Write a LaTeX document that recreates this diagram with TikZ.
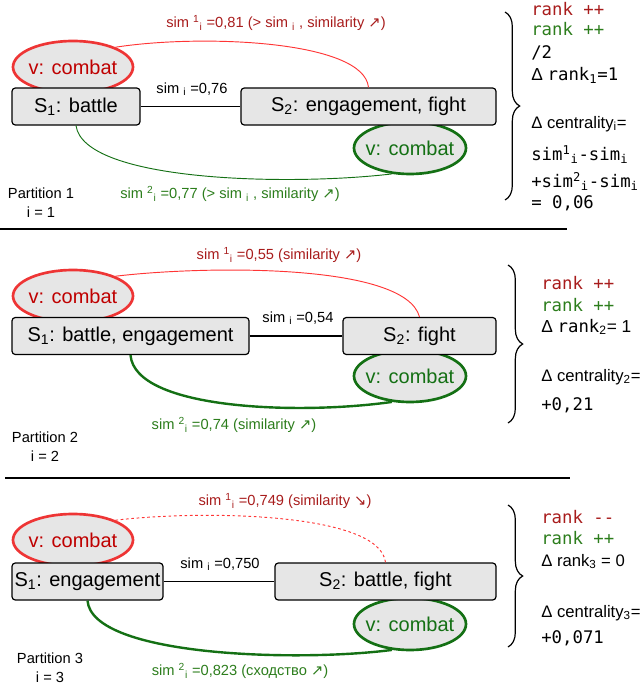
\documentclass[tikz,border=0pt]{standalone}
\usepackage{fontspec}
\setmainfont{Liberation Sans}
\setmonofont{DejaVu Sans Mono}
\newfontfamily\arrfont{DejaVu Sans}
\usetikzlibrary{shapes.geometric,decorations.pathreplacing}
\definecolor{simred}{HTML}{A81C1C}
\definecolor{ellred}{HTML}{EE3535}
\definecolor{linered}{HTML}{FF3535}
\definecolor{simgreen}{HTML}{2C7D1C}
\definecolor{ellgreen}{HTML}{147014}
\definecolor{boxgray}{HTML}{E6E6E6}
\newcommand{\arrup}{{\arrfont ↗}}
\newcommand{\arrdn}{{\arrfont ↘}}
\newcommand{\supsub}[2]{\textsuperscript{#1}\textsubscript{#2}}
\begin{document}
\begin{tikzpicture}[x=0.75pt, y=-0.75pt]
        % Define block styles
        \tikzstyle{sense} = [rectangle, draw, rounded corners=2.5pt, fill=boxgray, line width=0.9pt, minimum height=27.75pt, inner sep=0pt, font=\fontsize{15}{18}\selectfont]
        \tikzstyle{redsense} = [ellipse, draw=ellred, fill=boxgray, line width=2pt, minimum width=90pt, minimum height=39pt, inner xsep=-4pt, inner ysep=0pt, text=red!75!black, font=\fontsize{15}{18}\selectfont]
        \tikzstyle{greensense} = [ellipse, draw=ellgreen, fill=boxgray, line width=2pt, minimum width=84pt, minimum height=39pt, inner xsep=-4pt, inner ysep=0pt, text=ellgreen, font=\fontsize{15}{18}\selectfont]
        \tikzstyle{simline} = [line width=0.9pt]
        \tikzstyle{redlink} = [linered, line width=0.7pt]
        \tikzstyle{greenlink} = [ellgreen, line width=0.7pt]
        \tikzstyle{greenthick} = [ellgreen, line width=1.8pt]
        \tikzstyle{simlabel} = [inner sep=0pt, font=\fontsize{11}{13}\selectfont]
        \tikzstyle{partlabel} = [align=center, inner sep=0pt, font=\fontsize{11}{14.5}\selectfont]
        \tikzstyle{note} = [anchor=base west, inner sep=0pt, font=\fontsize{13}{15}\selectfont]
        \tikzstyle{sansnote} = [anchor=base west, inner sep=0pt, font=\fontsize{12.5}{15}\selectfont]
        \tikzstyle{bracket} = [decorate, decoration={brace, amplitude=11pt}, line width=0.9pt]
        \tikzstyle{sepline} = [line width=0.9pt]

        \useasboundingbox (0,0) rectangle (640,686);

        % Partition 1
        \node[redsense] (vred1) at (73,67) {v: combat};
        \node[greensense] (vgreen1) at (410,148) {v: combat};
        \node[sense, minimum width=96pt] (sa1) at (76,106.5) {S\textsubscript{1}: battle};
        \node[sense, minimum width=191.25pt] (sb1) at (368.5,106.5) {S\textsubscript{2}: engagement, fight};
        \draw[simline] (sa1) -- (sb1);
        \draw[redlink] (vred1.25) .. controls (200,34) and (364,40) .. (sb1.north);
        \draw[greenlink] (sa1.south) .. controls (84,182) and (290,186) .. (vgreen1.235);
        \node[simlabel] (simi1) at (192,89) {sim \textsubscript{i} =0,76};
        \node[simlabel, text=simred] (simr1) at (276,23) {sim \supsub{1}{i} =0,81 (> sim \textsubscript{i} , similarity \arrup)};
        \node[simlabel, text=simgreen] (simg1) at (230,194) {sim \supsub{2}{i} =0,77 (> sim \textsubscript{i} , similarity \arrup)};
        \node[partlabel] (part1) at (41,203) {Partition 1\\i = 1};

        \draw[bracket] (505,12) -- (505,200);
        \node[note, text=simred] (rkr1) at (531,15) {\texttt{rank ++}};
        \node[note, text=simgreen] (rkg1) at (531,35) {\texttt{rank ++}};
        \node[note] (half1) at (531,58) {\texttt{/2}};
        \node[note] (drank1) at (531,80) {Δ \texttt{rank}\textsubscript{\texttt{1}}\texttt{=1}};
        \node[sansnote] (dcent1) at (531,128) {Δ centrality\textsubscript{i}=};
        \node[note] (suma1) at (531,160) {\texttt{sim\textsuperscript{1}\textsubscript{i}-sim\textsubscript{i}}};
        \node[note] (sumb1) at (531,187) {\texttt{+sim\textsuperscript{2}\textsubscript{i}-sim\textsubscript{i}}};
        \node[note] (res1) at (531,208) {\texttt{= 0,06}};

        \draw[sepline] (0,229) -- (567,229);

        % Partition 2
        \node[redsense] (vred2) at (73,296) {v: combat};
        \node[greensense] (vgreen2) at (410,376) {v: combat};
        \node[sense, minimum width=177.75pt] (sa2) at (130.5,336) {S\textsubscript{1}: battle, engagement};
        \node[sense, minimum width=114.75pt] (sb2) at (419.5,336) {S\textsubscript{2}: fight};
        \draw[simline] (sa2) -- (sb2);
        \draw[redlink] (vred2.25) .. controls (200,266) and (405,262) .. (sb2.north);
        \draw[greenthick] (sa2.south) .. controls (135,410) and (300,415) .. (vgreen2.235);
        \node[simlabel] (simi2) at (298,318) {sim \textsubscript{i} =0,54};
        \node[simlabel, text=simred] (simr2) at (279,255) {sim \supsub{1}{i} =0,55 (similarity \arrup)};
        \node[simlabel, text=simgreen] (simg2) at (234,425) {sim \supsub{2}{i} =0,74 (similarity \arrup)};
        \node[partlabel] (part2) at (45,447) {Partition 2\\i = 2};

        \draw[bracket] (508,265) -- (508,423);
        \node[note, text=simred] (rkr2) at (541,289) {\texttt{rank ++}};
        \node[note, text=simgreen] (rkg2) at (541,311) {\texttt{rank ++}};
        \node[note] (drank2) at (541,332) {Δ \texttt{rank}\textsubscript{2}= 1};
        \node[sansnote] (dcent2) at (541,381) {Δ centrality\textsubscript{2}=};
        \node[note] (res2) at (541,410) {\texttt{+0,21}};

        \draw[sepline] (5,478) -- (570,478);

        % Partition 3
        \node[redsense] (vred3) at (73,540) {v: combat};
        \node[greensense] (vgreen3) at (410,624) {v: combat};
        \node[sense, minimum width=113.25pt] (sa3) at (87.5,581.5) {S\textsubscript{1}: engagement};
        \node[sense, minimum width=165.75pt] (sb3) at (385.5,581.5) {S\textsubscript{2}: battle, fight};
        \draw[simline] (sa3) -- (sb3);
        \draw[redlink, dash pattern=on 2pt off 2pt] (vred3.25) .. controls (200,510) and (380,512) .. (sb3.north);
        \draw[greenthick] (sa3.south) .. controls (92,657) and (300,662) .. (vgreen3.235);
        \node[simlabel] (simi3) at (220,564) {sim \textsubscript{i} =0,750};
        \node[simlabel, text=simred] (simr3) at (285,501) {sim \supsub{1}{i} =0,749 (similarity \arrdn)};
        \node[simlabel, text=simgreen] (simg3) at (240,671) {sim \supsub{2}{i} =0,823 (сходство \arrup)};
        \node[partlabel] (part3) at (50,667.5) {Partition 3\\i = 3};

        \draw[bracket] (508,505) -- (508,647);
        \node[note, text=simred] (rkr3) at (541,523) {\texttt{rank -{}-}};
        \node[note, text=simgreen] (rkg3) at (541,544) {\texttt{rank ++}};
        \node[sansnote] (drank3) at (541,566) {Δ rank\textsubscript{3} = 0};
        \node[sansnote] (dcent3) at (541,617) {Δ centrality\textsubscript{3}=};
        \node[note] (res3) at (541,643) {\texttt{+0,071}};

    \end{tikzpicture}
\end{document}
